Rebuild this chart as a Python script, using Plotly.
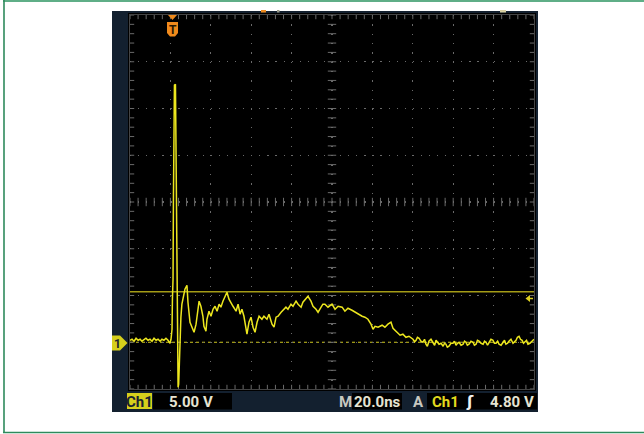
import numpy as np
import plotly.graph_objects as go

# ---------------- data ----------------
# pre-trigger baseline, spike and ringing
time_ns = [0.0, 1.0, 2.0, 3.0, 4.0, 5.0, 5.9, 6.9, 7.9, 8.9, 9.9, 10.9, 11.9, 12.9, 13.9, 14.9, 15.8, 16.8, 17.8, 18.8, 19.8,
           20.3, 20.8, 21.0, 21.3, 21.5, 21.8, 22.0, 22.5, 22.8, 23.0, 23.3, 23.5, 23.8, 24.1, 24.4, 24.8,
           25.2, 25.7, 26.7, 27.2, 28.2, 28.7, 29.7, 30.7, 31.7, 32.7, 33.7, 34.2, 35.1, 36.1, 36.6, 37.6, 38.1, 39.1, 40.1,
           41.1, 42.1, 43.1, 44.1, 45.0, 46.0, 47.5, 48.0, 49.0, 50.0, 51.0, 52.5, 53.5, 54.5, 55.4, 56.4, 57.4, 57.9, 58.9,
           59.9, 60.9, 61.9, 62.9, 63.9,
           65.3, 66.3, 67.8, 68.8, 70.3, 71.3, 72.3, 73.3, 74.8, 75.7, 77.2, 78.2, 79.7, 80.7, 82.2, 83.2, 84.7, 85.6, 87.1, 88.1,
           89.6, 90.6, 92.1, 93.1, 94.6, 95.5, 96.5, 98.0, 100.0, 101.5, 103.0, 105.0, 106.4, 107.9, 109.9, 111.4, 112.9, 114.9,
           116.3, 117.8, 119.3, 120.3, 121.3, 122.8, 124.8, 126.2, 127.7, 129.2, 130.2, 132.2, 133.7, 135.1, 136.6, 138.1]
volts = [0.21, 0.32, 0.11, 0.43, 0.21, 0.32, 0.11, 0.32, 0.43, 0.21, 0.32, 0.11, 0.43, 0.21, 0.32, 0.11, 0.32, 0.21, 0.43, 0.21, -0.11,
         0.32, 1.39, 4.60, 6.74, 15.3, 26.0, 27.5, 27.6, 20.6, 9.95, 4.60, -0.75, -4.82, -4.49, -1.82, 0.64,
         2.68, 4.07, 5.14, 5.67, 6.10, 4.28, 2.14, 1.61, 1.07, 1.93, 3.53, 4.39, 3.85, 2.78, 1.71, 1.18, 2.46, 3.32, 2.78,
         3.53, 3.85, 3.32, 4.07, 3.75, 4.39, 5.14, 5.35, 4.60, 4.28, 3.85, 3.32, 4.07, 3.00, 3.53, 2.78, 1.39, 0.86, 2.14,
         2.68, 1.61, 1.07, 2.14, 2.78,
         2.46, 2.78, 2.46, 3.00, 1.93, 1.61, 2.68, 2.78, 3.21, 3.42, 3.75, 3.53, 4.07, 3.85, 4.39, 4.07, 3.75, 4.28, 4.60, 4.92,
         4.39, 3.85, 3.53, 3.21, 3.75, 4.07, 4.07, 3.75, 4.07, 3.53, 3.85, 3.75, 3.32, 3.64, 3.42, 3.21, 3.00, 2.78,
         2.68, 2.46, 1.93, 1.39, 1.71, 1.61, 1.82, 1.61, 1.93, 2.14, 1.50, 1.07, 0.75, 0.86, 0.53, 0.64]

# settled tail
tail_time_ns = [140.1, 140.9, 141.6, 142.3, 143.1, 144.0, 145.0, 145.8, 146.5, 147.2,
                148.0, 149.0, 150.0, 150.8, 151.5, 152.2, 153.0, 154.0, 155.0, 155.7,
                156.4, 157.1, 157.9, 158.9, 159.9, 160.6, 161.4, 162.1, 162.9, 163.9,
                164.9, 165.6, 166.3, 167.0, 167.8, 168.8, 169.8, 170.5, 171.3, 172.0,
                172.8, 173.8, 174.8, 175.5, 176.2, 177.0, 177.7, 178.7, 179.7, 180.4,
                181.2, 182.0, 182.7, 183.7, 184.7, 185.4, 186.1, 186.9, 187.6, 188.6,
                189.6, 190.3, 191.1, 191.8, 192.6, 193.3, 194.1, 194.8, 195.5, 196.3,
                197.0, 198.0, 199.0, 200.0]
tail_volts = [0.32, 0.05, 0.21, 0.53, 0.43, 0.11, 0.00, 0.32, -0.21, -0.43,
              0.11, 0.32, -0.11, -0.32, 0.21, 0.00, -0.21, -0.11, -0.43, -0.11,
              -0.21, -0.53, -0.43, -0.11, -0.11, 0.11, -0.32, -0.11, 0.00, -0.32,
              -0.21, 0.11, 0.00, -0.32, -0.21, 0.11, 0.00, -0.32, -0.21, 0.21,
              0.11, -0.11, -0.21, 0.11, 0.00, -0.32, -0.11, 0.32, 0.21, -0.11,
              -0.11, 0.11, -0.21, -0.32, 0.00, 0.21, -0.21, -0.11, 0.11, 0.32,
              -0.11, 0.00, 0.21, 0.53, 0.64, 0.32, 0.21, -0.11, 0.00, 0.21,
              -0.21, -0.11, 0.11, 0.32]

trigger_time_ns = 20.8
trigger_line_v = 5.4
trigger_arrow_v = 4.8
ground_v = 0.0

x_range = [0, 200]      # 10 div x 20 ns
y_range = [-5, 35]      # 8 div x 5 V, ground one div above bottom
ch_label = "Ch1"
vdiv_label = "5.00 V"
tdiv_label = "20.0ns"
trig_label = "4.80 V"

# ---------------- layout geometry ----------------
W, H = 644, 434
L, R, T, B = 130, 110, 15, 45
PW, PH = W - L - R, H - T - B


def px(x):          # page x -> paper
    return (x - L) / PW


def py(y):          # page y -> paper
    return (H - B - y) / PH


NAVY = "#13202f"
YEL = "#ece61e"
GRID = "#6a6a6a"

shapes = []
annotations = []


def rect(x0, y0, x1, y1, fill, layer="below"):
    shapes.append(dict(type="rect", xref="paper", yref="paper",
                       x0=px(x0), x1=px(x1), y0=py(y1), y1=py(y0),
                       fillcolor=fill, line=dict(width=0), layer=layer))


def path(pts, fill, layer="above"):
    d = "M " + " L ".join(f"{px(a):.5f},{py(b):.5f}" for a, b in pts) + " Z"
    shapes.append(dict(type="path", xref="paper", yref="paper", path=d,
                       fillcolor=fill, line=dict(width=0), layer=layer))


def text(x, y, s, color, size=15, xanchor="center", weight="bold"):
    annotations.append(dict(x=px(x), y=py(y), xref="paper", yref="paper", text=s,
                            showarrow=False, xanchor=xanchor, yanchor="middle",
                            font=dict(family="Roboto, DejaVu Sans, sans-serif", size=size,
                                      color=color, weight=weight)))


# outer frame lines (top, left, bottom)
shapes.append(dict(type="line", xref="paper", yref="paper", x0=px(3), x1=px(644), y0=py(1), y1=py(1),
                   line=dict(color="#5fae87", width=2), layer="below"))
shapes.append(dict(type="line", xref="paper", yref="paper", x0=px(4), x1=px(4), y0=py(0), y1=py(432.5),
                   line=dict(color="#2e8a5c", width=1.6), layer="below"))
shapes.append(dict(type="line", xref="paper", yref="paper", x0=px(3), x1=px(644), y0=py(432.5), y1=py(432.5),
                   line=dict(color="#2e8a5c", width=1.6), layer="below"))

# scope screen
rect(112, 11, 538, 412, NAVY)
rect(128, 13, 536, 391, "#000000")

# tiny top markers
rect(261, 10, 266, 12.5, "#f08a1c")
rect(277, 10, 279.5, 12.5, "#9a9a8a")
rect(500, 10, 506, 12.5, "#d8d0a0")

# status bar
rect(127, 393, 152, 409, "#d6cf1c")
rect(153, 393, 232, 409.5, "#000000")
rect(352, 393, 402, 409.5, "#000000")
rect(427, 393, 537, 409.5, "#000000")
text(139.5, 401.5, ch_label, "#1b2230", size=15)
text(167, 401.5, vdiv_label, "#e6e4d2", size=15, xanchor="left")
text(345, 401.5, "M", "#c8c8c0", size=15)
text(377, 401.5, tdiv_label, "#e6e4d2", size=15)
text(418, 401.5, "A", "#c8c8c0", size=15)
text(445, 401.5, ch_label, "#e2da1e", size=15)
text(470, 401.5, "ʃ", "#f0f0f0", size=15)
text(536, 401.5, trig_label, "#e6e4d2", size=15, xanchor="right")

# ground reference marker "1"
path([(112, 335.5), (120, 335.5), (127.5, 343), (120, 350.5), (112, 350.5)], "#d6cf1c")
text(117.5, 343.5, "1", "#1b2230", size=12)

# trigger position marker "T"
path([(168, 15), (177, 15), (172.5, 20)], "#f08a1c")
path([(167, 22), (178, 22), (178, 33), (175, 36.5), (170, 36.5), (167, 33)], "#f08a1c")
text(172.5, 29.5, "T", "#2a1800", size=12)

# trigger level arrow at the right
path([(525.5, 298.5), (530, 295), (530, 302)], "#dcd020")
shapes.append(dict(type="line", xref="paper", yref="paper", x0=px(529), x1=px(533), y0=py(298.5), y1=py(298.5),
                   line=dict(color="#dcd020", width=1.5), layer="above"))

# ground and trigger level lines (data coordinates)
shapes.append(dict(type="line", xref="paper", yref="y", x0=0, x1=1, y0=ground_v, y1=ground_v,
                   line=dict(color="#cfc71c", width=1, dash="3px,3px"), layer="between"))
shapes.append(dict(type="line", xref="paper", yref="y", x0=0, x1=1, y0=trigger_line_v, y1=trigger_line_v,
                   line=dict(color="#a49c16", width=1.6), layer="between"))

fig = go.Figure()

# graticule ticks (centre cross and border), computed from the axis ranges
xc = (x_range[0] + x_range[1]) / 2
yc = (y_range[0] + y_range[1]) / 2
xt = np.arange(x_range[0], x_range[1] + 0.01, (x_range[1] - x_range[0]) / 50)
yt = np.arange(y_range[0], y_range[1] + 0.01, (y_range[1] - y_range[0]) / 40)
tick_style = dict(color=GRID, line=dict(color=GRID, width=1))
fig.add_trace(go.Scatter(x=np.concatenate([xt, xt, xt]),
                         y=np.concatenate([np.full_like(xt, yc), np.full_like(xt, y_range[0]), np.full_like(xt, y_range[1])]),
                         mode="markers", marker=dict(symbol="line-ns", size=6, **tick_style),
                         hoverinfo="skip", showlegend=False, cliponaxis=True))
fig.add_trace(go.Scatter(x=np.concatenate([np.full_like(yt, xc), np.full_like(yt, x_range[0]), np.full_like(yt, x_range[1])]),
                         y=np.concatenate([yt, yt, yt]),
                         mode="markers", marker=dict(symbol="line-ew", size=6, **tick_style),
                         hoverinfo="skip", showlegend=False, cliponaxis=True))

# signal
fig.add_trace(go.Scatter(x=time_ns + tail_time_ns, y=volts + tail_volts, mode="lines",
                         line=dict(color=YEL, width=1.5), hoverinfo="skip", showlegend=False))

fig.update_layout(
    width=W, height=H,
    margin=dict(l=L, r=R, t=T, b=B, pad=0),
    paper_bgcolor="white", plot_bgcolor="black",
    shapes=shapes, annotations=annotations,
    showlegend=False,
    xaxis=dict(range=x_range, dtick=20, tick0=0, showgrid=True, gridcolor=GRID, gridwidth=1.2,
               griddash="1.2px,8.15px", zeroline=False, showticklabels=False, ticks="",
               showline=True, linecolor="#444444", linewidth=1, mirror=True, fixedrange=True),
    yaxis=dict(range=y_range, dtick=5, tick0=-5, showgrid=True, gridcolor=GRID, gridwidth=1.2,
               griddash="1.2px,6.88px", zeroline=False, showticklabels=False, ticks="",
               showline=True, linecolor="#444444", linewidth=1, mirror=True, fixedrange=True),
)

fig.write_html("out.html", config={"displayModeBar": False, "staticPlot": True},
               post_script="document.body.style.margin='0';document.body.style.overflow='hidden';")
